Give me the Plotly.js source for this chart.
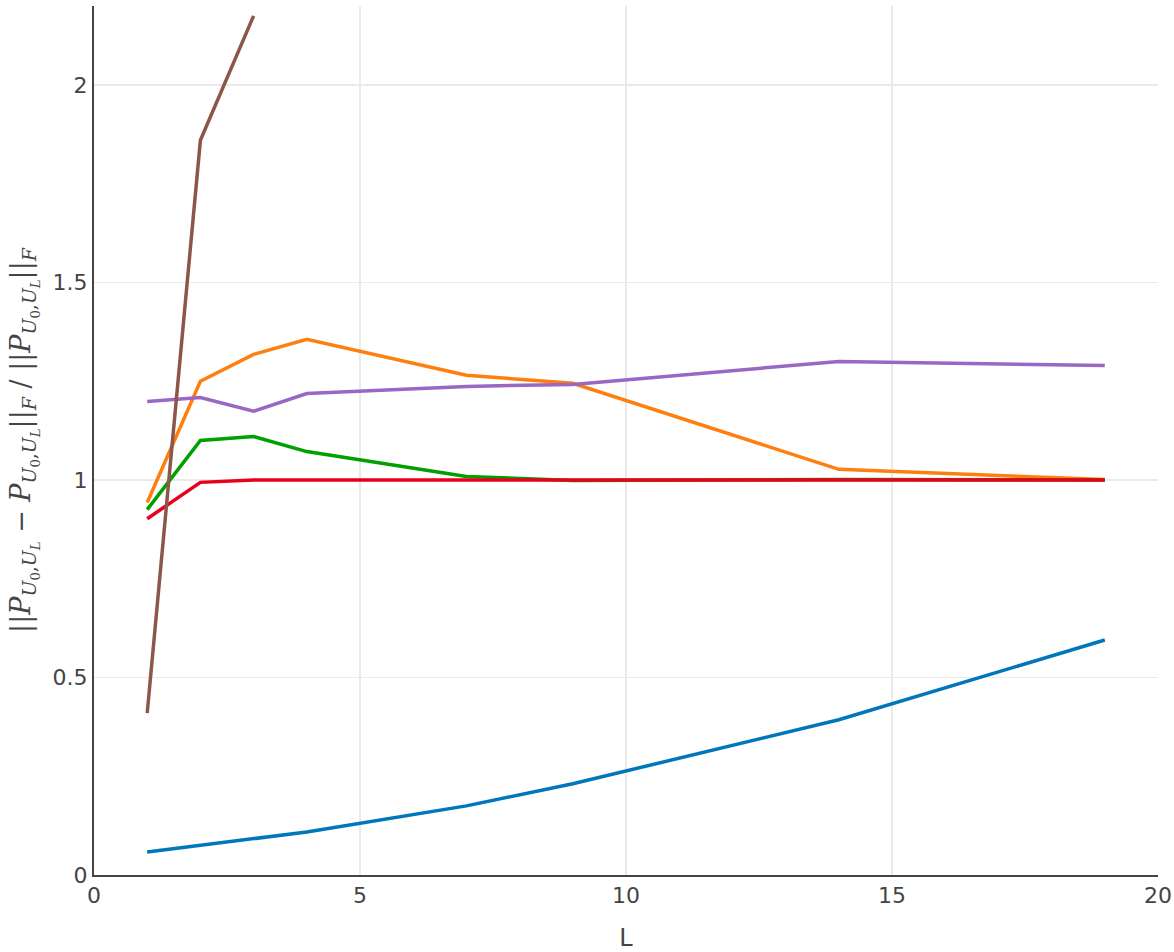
<!DOCTYPE html>
<html>
<head>
<meta charset="utf-8">
<script src="https://cdn.plot.ly/plotly-3.0.1.min.js"></script>
<style>html,body{margin:0;padding:0;background:#fff;}#chart{width:1174px;height:952px;}</style>
</head>
<body>
<div id="chart"></div>
<script>
const L = [1, 2, 3, 4, 7, 9, 14, 19];
const blueVals   = [0.058, 0.075, 0.091, 0.109, 0.175, 0.231, 0.393, 0.595];
const redVals    = [0.902, 0.994, 1.000, 1.000, 1.000, 1.000, 1.000, 1.000];
const greenVals  = [0.925, 1.100, 1.110, 1.072, 1.009, 0.999, 1.001, 1.000];
const purpleVals = [1.199, 1.209, 1.174, 1.219, 1.237, 1.242, 1.300, 1.290];
const orangeVals = [0.943, 1.250, 1.318, 1.356, 1.265, 1.245, 1.027, 1.001];
const brownL     = [1, 2, 3];
const brownVals  = [0.41, 1.86, 2.175];

const xTicks = [0, 5, 10, 15, 20];
const yTicks = [0, 0.5, 1, 1.5, 2];
const yTickText = ['0', '0.5', '1', '1.5', '2'];

const lw = 3.5;
const traces = [
  {x: L, y: blueVals, color: '#0077BB'},
  {x: L, y: orangeVals, color: '#FF7F0E'},
  {x: L, y: purpleVals, color: '#9A67C2'},
  {x: L, y: greenVals, color: '#00A000'},
  {x: L, y: redVals, color: '#E8001C'},
  {x: brownL, y: brownVals, color: '#8C564B'}
].map(t => ({x: t.x, y: t.y, type: 'scatter', mode: 'lines', line: {color: t.color, width: lw}, showlegend: false}));

const layout = {
  width: 1174, height: 952,
  margin: {l: 94, r: 16, t: 6, b: 77},
  paper_bgcolor: '#fff', plot_bgcolor: '#fff',
  font: {family: '"DejaVu Sans", sans-serif', size: 22, color: '#444'},
  showlegend: false,
  xaxis: {
    range: [0, 20], tickvals: xTicks, ticktext: xTicks.map(String),
    showgrid: true, gridcolor: '#eaeaea', gridwidth: 1.5,
    showline: true, linecolor: '#444', linewidth: 2,
    zeroline: false, ticks: '',
    title: {text: 'L', font: {size: 24, color: '#444'}, standoff: 22}
  },
  yaxis: {
    range: [0, 2.2], tickvals: yTicks, ticktext: yTickText,
    showgrid: true, gridcolor: '#eaeaea', gridwidth: 1.5,
    showline: true, linecolor: '#444', linewidth: 2,
    zeroline: false, ticks: '',
    title: {
      text: '||<i>P</i><sub><i>U</i><sub>0</sub>,<i>U</i><sub><i>L</i></sub></sub> − <i>P</i><sub><i>U</i><sub>0</sub>,<i>U</i><sub><i>L</i></sub></sub>||<sub><i>F</i></sub> / ||<i>P</i><sub><i>U</i><sub>0</sub>,<i>U</i><sub><i>L</i></sub></sub>||<sub><i>F</i></sub>',
      font: {family: '"DejaVu Serif", serif', size: 27, color: '#444'},
      standoff: 14
    }
  }
};

Plotly.newPlot('chart', traces, layout, {displayModeBar: false, staticPlot: true});
</script>
</body>
</html>
